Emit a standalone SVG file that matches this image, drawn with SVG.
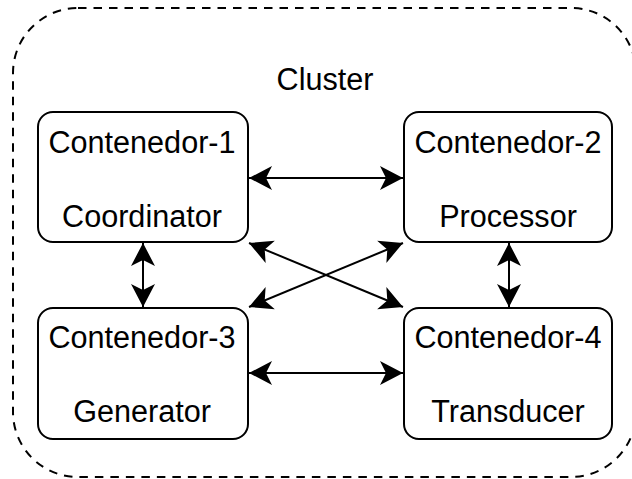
<svg xmlns="http://www.w3.org/2000/svg" width="632" height="479" viewBox="0 0 632 479">
  <defs>
    <marker id="arrow" markerUnits="userSpaceOnUse" markerWidth="30" markerHeight="30" refX="0" refY="0" orient="auto-start-reverse" overflow="visible">
      <path d="M0,0 L-23,-12 L-17,0 L-23,12 Z" fill="#000" stroke="none"/>
    </marker>
  </defs>
  <style>
    .cluster { fill: none; stroke: #000; stroke-width: 2; stroke-dasharray: 8.5 7; }
    .node rect { fill: #fff; stroke: #000; stroke-width: 2; }
    text { font-family: "Liberation Sans", Arial, sans-serif; font-size: 30.6px; fill: #000; text-anchor: middle; }
    .edge { stroke: #000; stroke-width: 2; fill: none; marker-start: url(#arrow); marker-end: url(#arrow); }
  </style>
  <rect width="632" height="479" fill="#fff"/>

  <g id="cluster">
    <rect class="cluster" x="13" y="8" width="623" height="469" rx="65" ry="65"/>
    <text x="325" y="90">Cluster</text>
  </g>

  <g id="connectors">
    <line class="edge" x1="249" y1="178" x2="403" y2="178"/>
    <line class="edge" x1="249" y1="373" x2="403" y2="373"/>
    <line class="edge" x1="143" y1="243" x2="143" y2="307"/>
    <line class="edge" x1="509" y1="243" x2="509" y2="307"/>
    <line class="edge" x1="249" y1="243" x2="403" y2="307"/>
    <line class="edge" x1="249" y1="307" x2="403" y2="243"/>
  </g>

  <g id="node-1" class="node">
    <rect x="38" y="112" width="210" height="130" rx="15" ry="15"/>
    <text x="142" y="153">Contenedor-1</text>
    <text x="142" y="227">Coordinator</text>
  </g>

  <g id="node-2" class="node">
    <rect x="404" y="112" width="208" height="130" rx="15" ry="15"/>
    <text x="508" y="153">Contenedor-2</text>
    <text x="508" y="227">Processor</text>
  </g>

  <g id="node-3" class="node">
    <rect x="38" y="308" width="210" height="131" rx="15" ry="15"/>
    <text x="142" y="348">Contenedor-3</text>
    <text x="142" y="422">Generator</text>
  </g>

  <g id="node-4" class="node">
    <rect x="404" y="308" width="208" height="131" rx="15" ry="15"/>
    <text x="508" y="348">Contenedor-4</text>
    <text x="508" y="422">Transducer</text>
  </g>
</svg>
